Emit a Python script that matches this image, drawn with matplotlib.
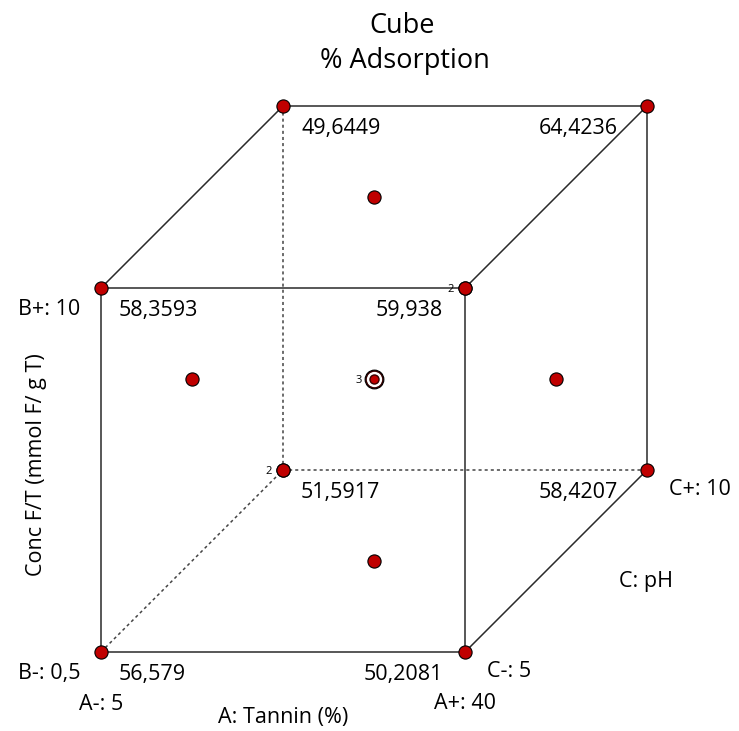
import matplotlib.pyplot as plt

plt.rcParams['font.family'] = ['Open Sans', 'DejaVu Sans']

# coded design points (A: Tannin, B: Conc F/T, C: pH)
corner_A = [-1, 1, -1, 1, -1, 1, -1, 1]
corner_B = [-1, -1, 1, 1, -1, -1, 1, 1]
corner_C = [-1, -1, -1, -1, 1, 1, 1, 1]
corner_resp = ["56,579", "50,2081", "58,3593", "59,938",
               "51,5917", "58,4207", "49,6449", "64,4236"]

face_A = [-1, 1, 0, 0, 0, 0]
face_B = [0, 0, -1, 1, 0, 0]
face_C = [0, 0, 0, 0, -1, 1]
face_n = [1, 1, 1, 1, 2, 2]
center_n = 3

a_labels = ["A-: 5", "A+: 40"]
b_labels = ["B-: 0,5", "B+: 10"]
c_labels = ["C-: 5", "C+: 10"]

RED = "#c00000"
FS = 15.5


def proj(a, b, c):
    # simple oblique projection onto the pixel grid
    return 374 + 182 * a + 91 * c, 379 - 182 * b - 91 * c


fig = plt.figure(figsize=(7.39, 7.31), dpi=100)
ax = fig.add_axes([0, 0, 1, 1])
ax.set_xlim(0, 739)
ax.set_ylim(731, 0)
ax.axis("off")

# edges
edges = [((-1, -1, -1), (1, -1, -1)), ((-1, 1, -1), (1, 1, -1)),
         ((-1, -1, -1), (-1, 1, -1)), ((1, -1, -1), (1, 1, -1)),
         ((-1, 1, 1), (1, 1, 1)), ((1, -1, 1), (1, 1, 1)),
         ((-1, 1, -1), (-1, 1, 1)), ((1, 1, -1), (1, 1, 1)),
         ((1, -1, -1), (1, -1, 1))]
hidden = [((-1, -1, 1), (-1, 1, 1)), ((-1, -1, 1), (1, -1, 1)),
          ((-1, -1, -1), (-1, -1, 1))]
for p, q in edges:
    x0, y0 = proj(*p)
    x1, y1 = proj(*q)
    ax.plot([x0, x1], [y0, y1], color="#2a2a2a", lw=1.1, zorder=1)
for p, q in hidden:
    x0, y0 = proj(*p)
    x1, y1 = proj(*q)
    ax.plot([x0, x1], [y0, y1], color="#444444", lw=1.1, ls=(0, (2, 2)), zorder=1)

# corner points + responses
for a, b, c, r in zip(corner_A, corner_B, corner_C, corner_resp):
    x, y = proj(a, b, c)
    ax.plot(x, y, "o", ms=9.5, mfc=RED, mec="black", mew=0.8, zorder=3)
    if a < 0:
        ax.text(x + 18, y + 28, r, fontsize=FS, ha="left", va="baseline")
    else:
        dx = 22 if c < 0 else 29
        ax.text(x - dx, y + 28, r, fontsize=FS, ha="right", va="baseline")

# face centres
for a, b, c, n in zip(face_A, face_B, face_C, face_n):
    x, y = proj(a, b, c)
    ax.plot(x, y, "o", ms=9.5, mfc=RED, mec="black", mew=0.8, zorder=3)
    if n > 1:
        ax.text(x - 11, y + 4, str(n), fontsize=8, ha="right", va="baseline")

# centre point
x, y = proj(0, 0, 0)
ax.plot(x, y, "o", ms=13.5, mfc="#3a0000", mec="black", mew=0.8, zorder=3)
ax.plot(x, y, "o", ms=10, mfc="white", mec="white", zorder=4)
ax.plot(x, y, "o", ms=6.5, mfc=RED, mec="#3a0000", mew=1.0, zorder=5)
ax.text(x - 12, y + 4, str(center_n), fontsize=8, ha="right", va="baseline")

# factor levels
x, y = proj(-1, -1, -1)
ax.text(x, y + 58, a_labels[0], fontsize=FS, ha="center", va="baseline")
ax.text(x - 21, y + 27, b_labels[0], fontsize=FS, ha="right", va="baseline")
x, y = proj(1, -1, -1)
ax.text(x, y + 57, a_labels[1], fontsize=FS, ha="center", va="baseline")
ax.text(x + 22, y + 25, c_labels[0], fontsize=FS, ha="left", va="baseline")
x, y = proj(-1, 1, -1)
ax.text(x - 21, y + 27, b_labels[1], fontsize=FS, ha="right", va="baseline")
x, y = proj(1, -1, 1)
ax.text(x + 22, y + 25, c_labels[1], fontsize=FS, ha="left", va="baseline")

# axis names
ax.text(283, 723, "A: Tannin (%)", fontsize=FS, ha="center", va="baseline")
ax.text(42, 465, "Conc F/T (mmol F/ g T)", fontsize=FS, ha="center",
        va="baseline", rotation=90, rotation_mode="anchor")
ax.text(646, 587, "C: pH", fontsize=FS, ha="center", va="baseline")

# titles
ax.text(402, 33, "Cube", fontsize=19.5, ha="center", va="baseline")
ax.text(405, 68, "% Adsorption", fontsize=19.5, ha="center", va="baseline")

fig.savefig("out.png", dpi=100)
